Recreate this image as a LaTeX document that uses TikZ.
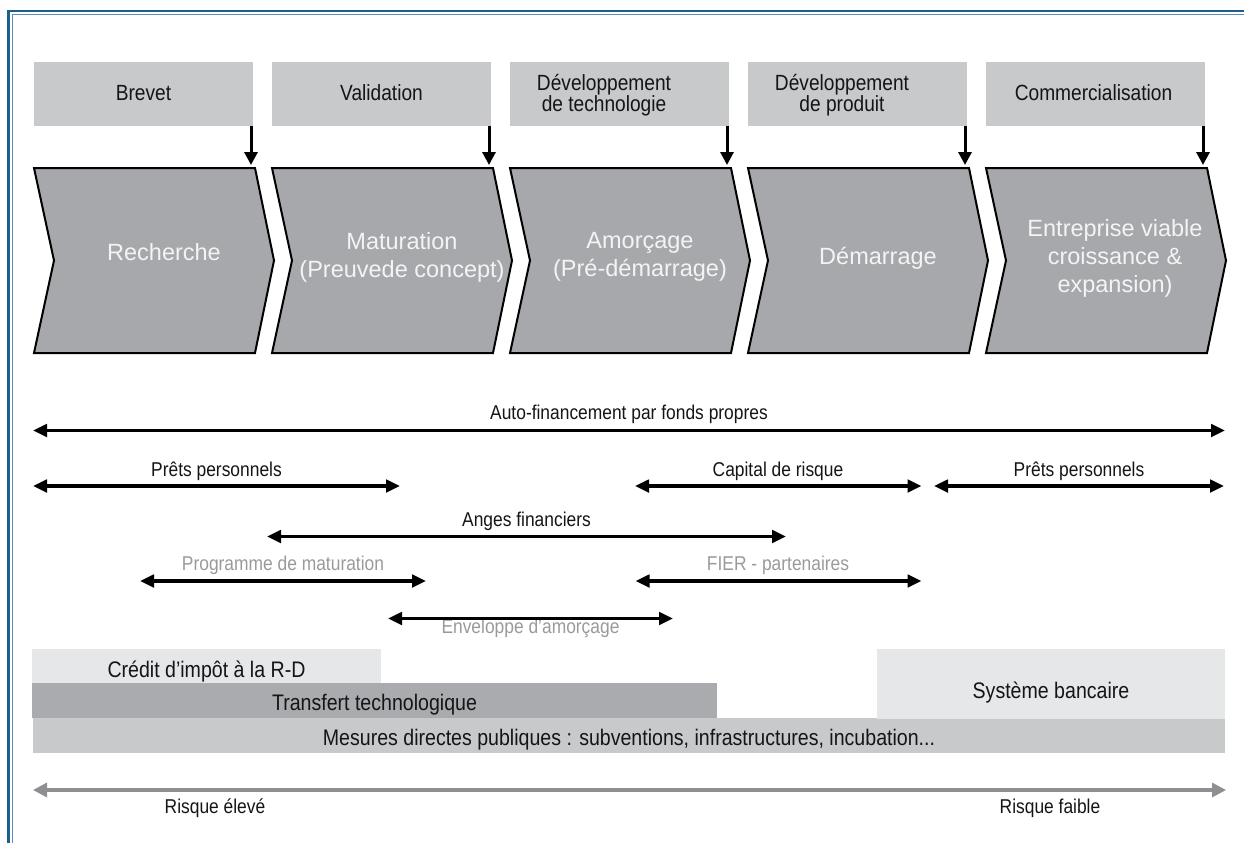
\documentclass[tikz,border=0pt]{standalone}
\usepackage{fontspec}
\setmainfont{Liberation Sans}
\newfontfamily\nf{Liberation Sans}[FakeStretch=0.87]
\usetikzlibrary{arrows.meta,calc}
\definecolor{boxgray}{HTML}{C8C9CB}
\definecolor{chevgray}{HTML}{A7A8AC}
\definecolor{chevtxt}{HTML}{F4F4F4}
\definecolor{txtblack}{HTML}{151515}
\definecolor{lblgray}{HTML}{999A9C}
\definecolor{riskgray}{HTML}{8E8F92}
\definecolor{lightbar}{HTML}{E6E7E8}
\definecolor{darkbar}{HTML}{AAABAE}
\definecolor{midbar}{HTML}{C8C9CB}
\definecolor{bordblue}{HTML}{1B5F8C}
\definecolor{bordlight}{HTML}{5B8DB8}
\begin{document}
\begin{tikzpicture}[x=1pt,y=-1pt,
  topbox/.style={fill=boxgray, minimum width=219pt, minimum height=64pt, inner sep=0pt, anchor=north west},
  toptext/.style={font=\nf\fontsize{22}{21}\selectfont, align=center, text=txtblack, inner sep=0pt},
  chev/.style={fill=chevgray, draw=black, line width=2pt, line join=miter},
  chevtext/.style={font=\fontsize{23.5}{28}\selectfont, text=chevtxt, align=center, inner sep=0pt},
  darr/.style={line width=3pt, -{Triangle[length=13pt,width=13pt]}},
  harr/.style={line width=3.2pt, {Triangle[length=14pt,width=12.5pt]}-{Triangle[length=14pt,width=12.5pt]}},
  garr/.style={line width=3.2pt, draw=riskgray, {Triangle[length=14pt,width=14pt]}-{Triangle[length=14pt,width=14pt]}},
  lbl/.style={font=\nf\fontsize{20}{24}\selectfont, inner sep=0pt, anchor=base, text=txtblack},
  glbl/.style={lbl, text=lblgray},
  bar/.style={inner sep=0pt, anchor=north west},
  bartext/.style={font=\nf\fontsize{22.5}{26}\selectfont, inner sep=0pt, anchor=base, text=txtblack},
]
\useasboundingbox (0,0) rectangle (1244,843);

% frame
\draw[line width=2.2pt, bordblue] (8.5,843) -- (8.5,11) -- (1244,11);
\draw[line width=1.2pt, bordlight] (12.5,843) -- (12.5,14.5) -- (1244,14.5);

% top boxes
\node[topbox] (b1) at (34,62) {};
\node[topbox] (b2) at (272,62) {};
\node[topbox] (b3) at (510,62) {};
\node[topbox] (b4) at (748,62) {};
\node[topbox] (b5) at (986,62) {};
\node[toptext, anchor=base] (t1) at (143.5,100.5) {Brevet};
\node[toptext, anchor=base] (t2) at (381.5,100.5) {Validation};
\node[toptext] (t3) at (604,95.5) {Développement\\de technologie};
\node[toptext] (t4) at (842,95.5) {Développement\\de produit};
\node[toptext, anchor=base] (t5) at (1093.5,100.5) {Commercialisation};

% chevrons
\foreach \i in {0,...,4}{
  \pgfmathsetmacro{\xl}{34+238*\i}
  \draw[chev] (\xl,168) -- (\xl+221,168) -- (\xl+240,260.5) -- (\xl+221,353) -- (\xl,353) -- (\xl+20,260.5) -- cycle;
}
\node[chevtext, anchor=base] (c1) at (164,260) {Recherche};
\node[chevtext] (c2) at (402,257) {Maturation\\(Preuvede concept)};
\node[chevtext] (c3) at (640,257) {Amorçage\\(Pré-démarrage)};
\node[chevtext, anchor=base] (c4) at (878,264) {Démarrage};
\node[chevtext] (c5) at (1115,258) {Entreprise viable\\croissance \&\\expansion)};

% down arrows
\foreach \i in {1,...,5}{
  \pgfmathsetmacro{\xa}{251+238*(\i-1)}
  \coordinate (ds\i) at (\xa,126);
  \coordinate (de\i) at (\xa,165);
  \draw[darr] (ds\i) -- (de\i);
}

% financing arrows
\node[lbl] (lauto) at (629,419) {Auto-financement par fonds propres};
\coordinate (au1) at (33,430.5); \coordinate (au2) at (1225,430.5);
\draw[harr] (au1) -- (au2);

\node[lbl] (lpp1) at (216.5,476) {Prêts personnels};
\coordinate (pp1a) at (33,486); \coordinate (pp1b) at (400,486);
\draw[harr] (pp1a) -- (pp1b);

\node[lbl] (lcr) at (778,476) {Capital de risque};
\coordinate (cra) at (635,486); \coordinate (crb) at (921.5,486);
\draw[harr] (cra) -- (crb);

\node[lbl] (lpp2) at (1079,476) {Prêts personnels};
\coordinate (pp2a) at (934,486); \coordinate (pp2b) at (1224,486);
\draw[harr] (pp2a) -- (pp2b);

\node[lbl] (lang) at (526.5,526.5) {Anges financiers};
\coordinate (anga) at (267,536.5); \coordinate (angb) at (786,536.5);
\draw[harr] (anga) -- (angb);

\node[glbl] (lprog) at (283,570) {Programme de maturation};
\coordinate (proga) at (140,581); \coordinate (progb) at (426,581);
\draw[harr] (proga) -- (progb);

\node[glbl] (lfier) at (778,570) {FIER - partenaires};
\coordinate (fiera) at (635.5,581); \coordinate (fierb) at (921.5,581);
\draw[harr] (fiera) -- (fierb);

\node[glbl] (lenv) at (530.5,633) {Enveloppe d’amorçage};
\coordinate (enva) at (388,618.5); \coordinate (envb) at (673,618.5);
\draw[harr] (enva) -- (envb);

% bottom bars
\node[bar, fill=midbar, minimum width=1192pt, minimum height=35pt] (mes) at (33,718) {};
\node[bar, fill=darkbar, minimum width=685pt, minimum height=35pt] (trans) at (32,683) {};
\node[bar, fill=lightbar, minimum width=349pt, minimum height=34pt] (cred) at (32,649) {};
\node[bar, fill=lightbar, minimum width=348pt, minimum height=69.5pt] (banc) at (877,649) {};
\node[bartext] (lcred) at (206.5,677.5) {Crédit d’impôt à la R-D};
\node[bartext] (ltrans) at (374.5,710) {Transfert technologique};
\node[bartext] (lmes) at (629,745) {Mesures directes publiques : subventions, infrastructures, incubation...};
\node[bartext] (lbanc) at (1051,698) {Système bancaire};

% risk arrow
\coordinate (ra) at (33,790); \coordinate (rb) at (1226,790);
\draw[garr] (ra) -- (rb);
\node[lbl] (lre) at (215,813) {Risque élevé};
\node[lbl] (lrf) at (1050,813) {Risque faible};
\end{tikzpicture}
\end{document}
